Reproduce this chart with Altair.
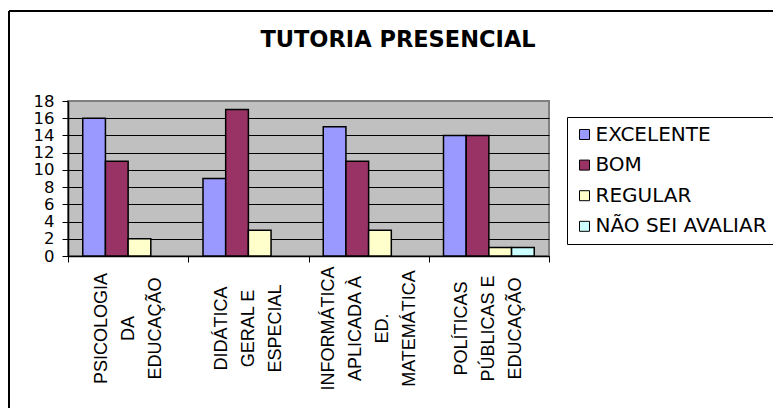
import altair as alt
import pandas as pd

# Disciplines on the x axis ("|" separates the lines of each label)
categories = [
    "PSICOLOGIA|DA|EDUCAÇÃO",
    "DIDÁTICA|GERAL E|ESPECIAL",
    "INFORMÁTICA|APLICADA À|ED.|MATEMÁTICA",
    "POLÍTICAS|PÚBLICAS E|EDUCAÇÃO",
]
series = ["EXCELENTE", "BOM", "REGULAR", "NÃO SEI AVALIAR"]

excelente = [16, 9, 15, 14]
bom = [11, 17, 11, 14]
regular = [2, 3, 3, 1]
nao_sei = [0, 0, 0, 1]

colors = ["#9999FF", "#993366", "#FFFFCC", "#CCFFFF"]
y_ticks = [0, 2, 4, 6, 8, 10, 12, 14, 16, 18]

LINE_H = 27

rows = []
for name, values in zip(series, [excelente, bom, regular, nao_sei]):
    for cat, v in zip(categories, values):
        rows.append({"disciplina": cat, "avaliacao": name, "valor": v})
df = pd.DataFrame(rows)

bars = (
    alt.Chart(df)
    .transform_filter("datum.valor > 0")
    .mark_bar(stroke="black", strokeWidth=1.5)
    .encode(
        x=alt.X(
            "disciplina:N",
            sort=categories,
            scale=alt.Scale(paddingInner=0, paddingOuter=0),
            axis=alt.Axis(
                title=None,
                labelAngle=270,
                labelAlign="center",
                labelBaseline="middle",
                labelExpr="split(datum.label, '|')",
                labelLineHeight=LINE_H,
                # centre the stacked lines of each label on its category
                labelOffset=alt.condition(
                    "length(split(datum.label, '|')) === 4",
                    alt.value(-1.5 * LINE_H),
                    alt.value(-1.0 * LINE_H),
                ),
                labelFont="Liberation Sans",
                labelFontSize=18,
                labelColor="black",
                labelPadding=66,
                labelOverlap=False,
                labelBound=False,
                tickBand="extent",
                tickSize=6,
                tickColor="black",
                domainColor="black",
                domainWidth=1.5,
            ),
        ),
        xOffset=alt.XOffset(
            "avaliacao:N",
            sort=series,
            scale=alt.Scale(domain=series, paddingInner=0, paddingOuter=0.65),
        ),
        y=alt.Y(
            "valor:Q",
            scale=alt.Scale(domain=[0, 18], nice=False),
            axis=alt.Axis(
                title=None,
                values=y_ticks,
                labelFont="DejaVu Sans",
                labelFontSize=16.5,
                labelColor="black",
                labelPadding=8,
                tickSize=6,
                tickColor="black",
                domainColor="black",
                domainWidth=1.5,
                grid=True,
                gridColor=alt.condition(
                    "datum.value === 18", alt.value("#808080"), alt.value("black")
                ),
                gridWidth=1,
            ),
        ),
        color=alt.Color(
            "avaliacao:N",
            sort=series,
            scale=alt.Scale(domain=series, range=colors),
            legend=alt.Legend(
                title=None,
                orient="none",
                legendX=499,
                legendY=16,
                direction="vertical",
                symbolType="square",
                symbolSize=100,
                symbolStrokeColor="black",
                symbolStrokeWidth=1,
                symbolOpacity=1,
                labelFont="DejaVu Sans",
                labelFontSize=20,
                labelColor="black",
                labelOffset=1,
                labelLimit=0,
                rowPadding=10.6,
                padding=7.5,
                strokeColor="black",
                fillColor="white",
            ),
        ),
    )
)

# Outer chart frame (left and top edges)
frame_left = (
    alt.Chart(alt.Data(values=[{}]))
    .mark_rule(color="black", strokeWidth=2)
    .encode(x=alt.value(-59), y=alt.value(-90), y2=alt.value(320))
)
frame_top = (
    alt.Chart(alt.Data(values=[{}]))
    .mark_rule(color="black", strokeWidth=2)
    .encode(y=alt.value(-90), x=alt.value(-59), x2=alt.value(720))
)

title = (
    alt.Chart(alt.Data(values=[{}]))
    .mark_text(
        text="TUTORIA PRESENCIAL",
        font="DejaVu Sans",
        fontSize=22.5,
        fontWeight="bold",
        align="center",
        baseline="alphabetic",
        color="black",
    )
    .encode(x=alt.value(330), y=alt.value(-54))
)

chart = (
    alt.layer(frame_left, frame_top, bars, title)
    .properties(
        width=481,
        height=155,
        padding={"left": 68, "top": 101, "right": 224, "bottom": 152},
        autosize=alt.AutoSizeParams(type="none"),
        background="white",
    )
    .configure_view(fill="#C0C0C0", stroke="#808080", strokeWidth=2)
)

chart.save("out.html", embed_options={"renderer": "svg", "actions": False})
